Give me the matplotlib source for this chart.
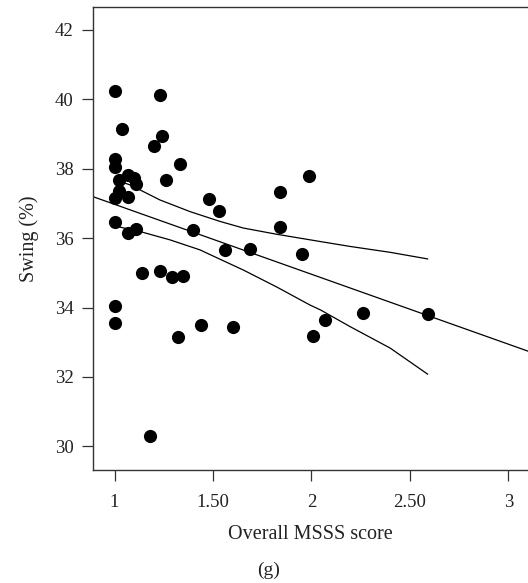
import matplotlib
matplotlib.use("Agg")
import matplotlib.pyplot as plt
import numpy as np

# Overall MSSS score vs swing (%)
msss = [1.00, 1.23, 1.04, 1.24, 1.20, 1.00, 1.00, 1.33, 1.02, 1.07,
        1.10, 1.11, 1.26, 1.02, 1.00, 1.07, 1.99, 1.84, 1.48, 1.53,
        1.00, 1.07, 1.11, 1.40, 1.84, 1.56, 1.69, 1.95, 1.14, 1.23,
        1.29, 1.35, 1.00, 1.00, 1.32, 1.44, 1.60, 2.01, 2.07, 2.26,
        2.59, 1.18]
swing = [40.24, 40.13, 39.15, 38.95, 38.65, 38.28, 38.05, 38.14, 37.68, 37.82,
         37.73, 37.56, 37.68, 37.36, 37.16, 37.19, 37.79, 37.33, 37.14, 36.79,
         36.45, 36.14, 36.27, 36.24, 36.33, 35.65, 35.69, 35.54, 35.00, 35.05,
         34.87, 34.90, 34.04, 33.54, 33.14, 33.49, 33.45, 33.19, 33.64, 33.84,
         33.80, 30.30]

# confidence band
upper_x = [1.00, 1.08, 1.23, 1.385, 1.536, 1.654, 1.824, 2.046, 2.196, 2.40, 2.59]
upper_y = [37.69, 37.53, 37.10, 36.76, 36.48, 36.29, 36.11, 35.90, 35.76, 35.59, 35.40]
lower_x = [1.00, 1.129, 1.281, 1.434, 1.536, 1.654, 1.824, 1.993, 2.046, 2.196, 2.40, 2.59]
lower_y = [36.35, 36.19, 35.95, 35.66, 35.39, 35.08, 34.59, 34.07, 33.93, 33.45, 32.83, 32.08]

xticks = [1, 1.5, 2, 2.5, 3]
xticklabels = ["1", "1.50", "2", "2.50", "3"]
yticks = [30, 32, 34, 36, 38, 40, 42]

plt.rcParams['font.family'] = ['Liberation Serif', 'DejaVu Serif']

x = np.array(msss)
y = np.array(swing)

# least squares line
slope, icpt = np.polyfit(x, y, 1)

fig = plt.figure(figsize=(5.28, 5.83), dpi=100)
ax = fig.add_axes([0.176, 0.194, 0.824, 0.794])

xl = (0.89, 3.10)
ax.plot(xl, [icpt + slope * xl[0], icpt + slope * xl[1]], color='black', lw=0.9)
ax.plot(upper_x, upper_y, color='black', lw=0.9)
ax.plot(lower_x, lower_y, color='black', lw=0.9)
ax.scatter(x, y, s=90, color='black', zorder=3, linewidths=0)

ax.set_xlim(*xl)
ax.set_ylim(29.32, 42.66)
ax.set_xticks(xticks)
ax.set_xticklabels(xticklabels)
ax.set_yticks(yticks)
ax.spines['right'].set_visible(False)
for sp in ax.spines.values():
    sp.set_linewidth(1.0)
    sp.set_color('#333333')
ax.tick_params(direction='out', length=8, width=0.9, color='#333333',
               labelsize=13.5, labelcolor='#222222')
ax.tick_params(axis='x', pad=9.5)
ax.tick_params(axis='y', pad=6)

ax.set_xlabel("Overall MSSS score", fontsize=14.5, color='#222222', labelpad=10)
ax.set_ylabel("Swing (%)", fontsize=14.5, color='#222222')
ax.yaxis.set_label_coords(-0.125, 0.5)
fig.text(0.508, 0.021, "(g)", ha='center', va='center', fontsize=14, color='#222222')

fig.savefig("out.png", dpi=100)
